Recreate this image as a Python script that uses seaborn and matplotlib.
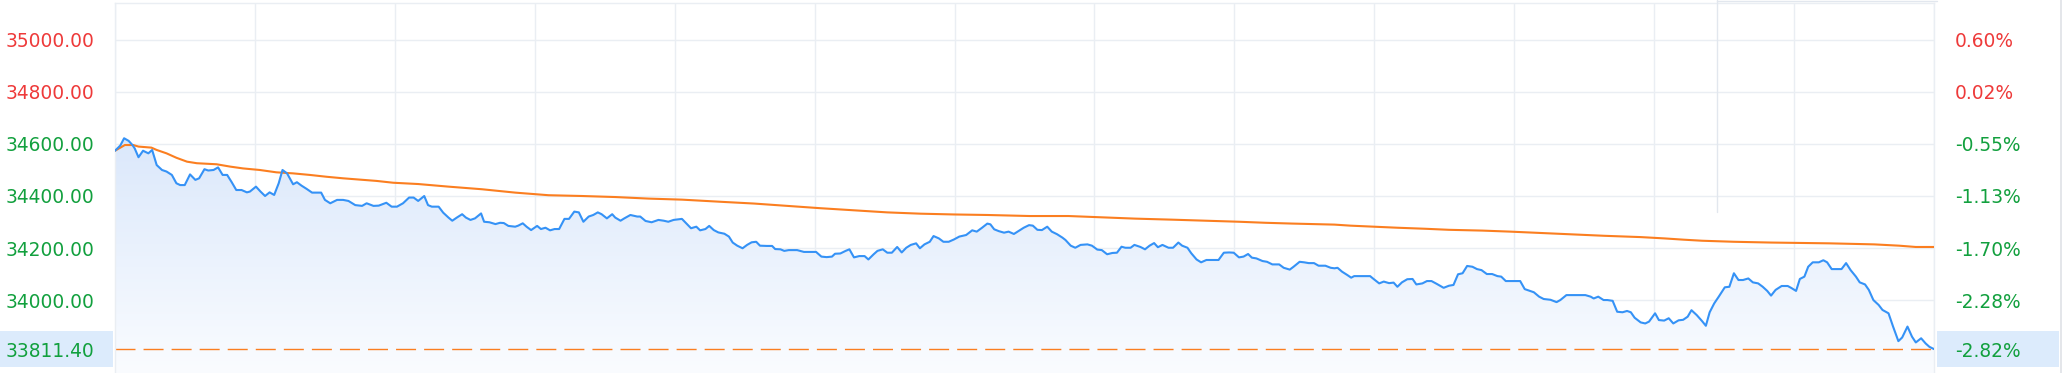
import numpy as np
import pandas as pd
import matplotlib
matplotlib.use("Agg")
import matplotlib.pyplot as plt
import seaborn as sns
from matplotlib.colors import LinearSegmentedColormap
from matplotlib.patches import Rectangle, PathPatch
from matplotlib.lines import Line2D
from matplotlib.transforms import blended_transform_factory

# ---------------- data ----------------
price_minutes = [
    0, 0.7, 1.2, 1.8, 2.3, 2.6, 3.1, 3.7, 4.4, 4.9,
    5.5, 6.2, 6.8, 7.5, 8.1, 8.6, 9.2, 9.9, 10.6, 11.1,
    11.8, 12.3, 13.0, 13.6, 14.2, 14.8, 15.4, 16.0, 16.7, 17.4,
    17.8, 18.6, 19.2, 19.8, 20.4, 21.0, 21.6, 22.1, 22.7, 23.5,
    24.0, 24.6, 25.3, 26.0, 27.2, 27.7, 28.4, 29.3, 30.1, 30.8,
    31.7, 32.6, 33.2, 34.1, 34.8, 35.8, 36.5, 37.2, 38.0, 38.8,
    39.4, 40.0,
    40.8, 41.3, 41.8, 42.7, 43.3, 44.0, 44.5, 45.1, 45.8, 46.3,
    46.9, 47.5, 48.3, 48.7, 49.4, 50.2, 50.8, 51.3, 51.9, 52.8,
    53.2, 53.8, 54.3, 54.9, 55.7, 56.2, 56.8, 57.4, 58.0, 58.6,
    59.3, 59.9, 60.6, 61.2, 61.8, 62.5, 63.1, 63.7, 64.2, 64.9,
    65.6, 66.0, 66.7, 67.2, 68.0, 68.9, 69.3, 70.0, 70.8, 71.7,
    72.4, 73.0, 73.7, 74.8, 75.5, 76.0, 76.7, 77.2, 77.9, 78.4,
    79.0, 79.6, 80.4,
    81.0, 81.5, 82.1, 82.8, 83.4, 84.0, 84.6, 85.1, 86.0, 86.7,
    87.1, 87.8, 88.3, 88.9, 90.0, 90.9, 91.7, 92.5, 93.2, 93.9,
    94.6, 95.0, 95.7, 96.4, 96.9, 97.5, 98.2, 98.9, 99.4, 100.1,
    100.6, 101.3, 101.9, 102.5, 103.2, 103.8, 104.4, 105.0, 105.7, 106.2,
    106.8, 107.5, 108.0, 108.7, 109.3, 110.0, 110.7, 111.4, 112.3, 113.1,
    113.7, 114.4, 115.1, 115.5, 116.0, 116.6, 117.3, 117.9, 118.6, 119.2,
    119.9, 120.6,
    121.1, 121.7, 122.3, 123.0, 123.6, 124.3, 125.0, 125.4, 126.1, 126.7,
    127.4, 128.3, 128.9, 129.6, 130.2, 130.9, 131.6, 132.2, 132.8, 133.3,
    134.0, 134.5, 135.3, 135.9, 136.5, 137.1, 137.6, 138.2, 139.0, 139.6,
    140.3, 140.8, 141.5, 142.0, 142.7, 143.3, 144.0, 144.8, 145.6, 146.3,
    147.0, 147.6, 148.3, 148.9, 149.5, 150.0, 150.6, 151.4, 152.0, 152.7,
    153.6, 154.2, 155.0, 155.5, 156.3, 156.9, 157.5, 158.2, 158.8, 159.7,
    160.4, 160.9,
    161.3, 161.9, 162.6, 163.1, 163.5, 164.3, 165.6, 166.1, 166.8, 167.4,
    168.1, 168.7, 169.2, 169.8, 170.5, 171.2, 171.7, 172.5, 173.1, 173.7,
    174.4, 175.3, 176.0, 176.6, 177.2, 177.8, 178.4, 179.1, 179.7, 180.3,
    181.0, 181.7, 182.4, 182.9, 183.5, 184.4, 185.4, 186.0, 186.6, 187.2,
    187.9, 188.5, 189.4, 190.2, 190.7, 191.5, 192.5, 194.0, 194.7, 195.1,
    195.7, 196.4, 196.9, 197.6, 198.2, 198.9, 199.5, 200.0, 200.5, 201.3,
    201.9, 202.4, 203.2, 203.7, 204.4, 205.0, 205.6, 206.3, 206.9, 207.5,
    208.0, 208.7, 209.4, 209.9, 210.4, 211.0, 211.6, 212.4, 213.0, 213.6,
    214.2, 214.8, 215.5, 216.1, 216.8, 217.4, 218.0, 218.5, 219.1, 219.9,
    220.7, 221.2, 221.8, 222.3, 222.9, 223.4, 224.0, 224.8, 225.4, 225.9,
    226.5, 227.1, 227.8, 228.4, 229.0, 229.7, 230.2, 230.9, 231.4, 232.0,
    232.7, 233.2, 234.0, 234.6, 235.3, 235.8, 236.5, 237.1, 237.6, 238.3,
    238.9, 239.4, 240.0,
]
price_values = [
    34574, 34594, 34622, 34612, 34596, 34583, 34549, 34574, 34564, 34577,
    34519, 34500, 34494, 34481, 34449, 34442, 34442, 34483, 34462, 34468,
    34503, 34498, 34500, 34510, 34481, 34481, 34453, 34423, 34423, 34414,
    34417, 34436, 34417, 34400, 34414, 34404, 34449, 34500, 34487, 34445,
    34453, 34440, 34427, 34413, 34413, 34385, 34372, 34385, 34385, 34381,
    34365, 34362, 34372, 34362, 34363, 34374, 34359, 34359, 34372, 34394,
    34394, 34381,
    34400, 34365, 34359, 34359, 34336, 34317, 34305, 34317, 34330, 34317,
    34308, 34314, 34333, 34301, 34299, 34292, 34297, 34296, 34285, 34282,
    34286, 34295, 34282, 34269, 34285, 34273, 34278, 34268, 34273, 34273,
    34312, 34312, 34340, 34337, 34301, 34321, 34327, 34337, 34330, 34314,
    34330, 34317, 34305, 34314, 34327, 34321, 34321, 34304, 34299, 34308,
    34305, 34301, 34308, 34312, 34291, 34276, 34282, 34268, 34273, 34285,
    34269, 34260, 34255,
    34244, 34221, 34209, 34199, 34212, 34222, 34224, 34209, 34208, 34208,
    34196, 34195, 34189, 34192, 34192, 34185, 34185, 34185, 34167, 34165,
    34167, 34178, 34179, 34189, 34195, 34164, 34169, 34169, 34156, 34176,
    34189, 34195, 34182, 34182, 34204, 34183, 34201, 34212, 34218, 34199,
    34214, 34224, 34246, 34237, 34224, 34224, 34233, 34244, 34250, 34268,
    34263, 34278, 34294, 34291, 34272, 34265, 34259, 34263, 34254, 34265,
    34278, 34288,
    34286, 34270, 34269, 34282, 34263, 34253, 34240, 34231, 34209, 34201,
    34212, 34214, 34209, 34194, 34192, 34176, 34181, 34182, 34205, 34201,
    34201, 34212, 34204, 34195, 34209, 34219, 34203, 34212, 34201, 34201,
    34221, 34209, 34201, 34180, 34156, 34145, 34154, 34154, 34154, 34182,
    34183, 34182, 34164, 34167, 34177, 34163, 34160, 34150, 34147, 34137,
    34137, 34124, 34117, 34128, 34147, 34145, 34142, 34142, 34132, 34132,
    34124, 34122,
    34124, 34109, 34096, 34086, 34092, 34092, 34092, 34080, 34064, 34071,
    34065, 34067, 34051, 34068, 34080, 34081, 34060, 34064, 34073, 34073,
    34062, 34047, 34055, 34058, 34099, 34103, 34131, 34128, 34119, 34115,
    34100, 34100, 34092, 34090, 34073, 34073, 34073, 34042, 34036, 34030,
    34013, 34004, 34001, 33992, 34000, 34019, 34019, 34019, 34013, 34006,
    34013, 34000, 34000, 33997, 33955, 33953, 33958, 33953, 33932, 33914,
    33910, 33917, 33949, 33923, 33921, 33930, 33910, 33922, 33924, 33936,
    33961, 33942, 33919, 33901, 33953, 33987, 34013, 34049, 34051, 34103,
    34077, 34077, 34083, 34068, 34064, 34051, 34035, 34017, 34039, 34054,
    34054, 34046, 34035, 34081, 34090, 34128, 34145, 34145, 34153, 34145,
    34119, 34119, 34119, 34142, 34115, 34090, 34068, 34060, 34039, 34000,
    33981, 33962, 33949, 33898, 33842, 33856, 33898, 33859, 33837, 33853,
    33833, 33820, 33811.4,
]

avg_minutes = [
    0, 1.3, 2.4, 3.1, 4.8, 5.5, 6.8, 8.1, 9.5, 10.8,
    13.4, 15.2, 16.9, 19.1, 21.3, 23.5, 25.7, 27.9, 30.1, 32.3,
    34.5, 36.7, 40.0, 44.0, 48.4, 52.8, 57.2, 61.6, 66.0, 70.4,
    74.8, 80.4, 84.3, 88.7, 93.1, 97.5, 101.9, 106.3, 110.7, 115.1,
    120.7, 125.8, 130.2, 134.6, 139.5, 143.9, 148.3, 151.8, 155.3, 160.9,
    163.0, 166.1, 169.2, 172.9, 176.0, 180.4, 184.1, 187.2, 190.3, 193.4,
    196.5, 201.3, 204.4, 207.0, 209.4, 213.6, 218.5, 226.2, 232.1, 235.4,
    237.6, 240.0,
]
avg_values = [
    34574, 34596, 34596, 34590, 34586, 34577, 34564, 34547, 34532, 34526,
    34522, 34513, 34506, 34500, 34491, 34487, 34481, 34474, 34468, 34463,
    34458, 34451, 34446, 34436, 34426, 34413, 34403, 34400, 34396, 34390,
    34386, 34377, 34371, 34362, 34353, 34345, 34337, 34332, 34329, 34327,
    34323, 34323, 34318, 34313, 34309, 34305, 34301, 34297, 34294, 34290,
    34286, 34282, 34278, 34274, 34270, 34267, 34263, 34259, 34255, 34251,
    34247, 34242, 34237, 34232, 34228, 34224, 34221, 34218, 34214, 34209,
    34204, 34204,
]

price_ticks = [33800, 34000, 34200, 34400, 34600, 34800, 35000]
price_tick_labels = ["", "34000.00", "34200.00", "34400.00", "34600.00", "34800.00", "35000.00"]
pct_tick_labels = ["", "-2.28%", "-1.70%", "-1.13%", "-0.55%", "0.02%", "0.60%"]
last_price = 33811.40
last_price_label = "33811.40"
last_pct_label = "-2.82%"
session_minutes = 240
n_time_grid = 14

assert len(price_minutes) == len(price_values)
assert len(avg_minutes) == len(avg_values)

# ---------------- style ----------------
sns.set_style("white")
plt.rcParams['font.family'] = ['DejaVu Sans']

RED = "#ee3a3a"
GREEN = "#12a03e"
BLUE = "#3592f6"
ORANGE = "#fb7e20"
GRID = "#eaeef3"
BOX = "#dcebfc"

W, H = 2065, 373
fig = plt.figure(figsize=(W / 100, H / 100), dpi=100)
fig.patch.set_facecolor("white")
ax = fig.add_axes([115 / W, 0, (1934 - 115) / W, 370 / H])
ylo, yhi = 33719.5, 35142
ax.set_xlim(0, session_minutes)
ax.set_ylim(ylo, yhi)

df_price = pd.DataFrame({"minute": price_minutes, "price": price_values})
df_avg = pd.DataFrame({"minute": avg_minutes, "avg": avg_values})

# gradient area under price line
poly = ax.fill_between(df_price["minute"], df_price["price"], ylo, color="none", lw=0)
path = poly.get_paths()[0]
clip = PathPatch(path, transform=ax.transData, facecolor="none", edgecolor="none")
ax.add_patch(clip)
cmap = LinearSegmentedColormap.from_list("g", ["#fafcff", "#dbe8fb"])
grad = np.linspace(0, 1, 256).reshape(-1, 1)
img = ax.imshow(grad, extent=[0, session_minutes, ylo, max(price_values)], origin="lower",
                aspect="auto", cmap=cmap, zorder=1, interpolation="bicubic")
img.set_clip_path(clip)

sns.lineplot(data=df_avg, x="minute", y="avg", ax=ax, color=ORANGE, linewidth=1.5,
             estimator=None, zorder=3)
sns.lineplot(data=df_price, x="minute", y="price", ax=ax, color=BLUE, linewidth=1.5,
             estimator=None, zorder=4)
ax.axhline(last_price, color=ORANGE, linewidth=1.0, dashes=(14.4, 5.8), zorder=2)

ax.set_xlabel("")
ax.set_ylabel("")
ax.set_xticks(np.linspace(0, session_minutes, n_time_grid))
ax.set_xticklabels([])
ax.tick_params(axis="x", length=0)
ax.set_yticks(price_ticks)
ax.set_yticklabels(price_tick_labels)
ax.tick_params(axis="y", length=0, pad=15.1, labelsize=13.4)
ax.grid(True, color=GRID, linewidth=1.0, zorder=0)
ax.set_axisbelow(True)
for s in ax.spines.values():
    s.set_color(GRID)
    s.set_linewidth(1.0)
ax.spines["bottom"].set_visible(False)

base = 34792.0
for lab, v in zip(ax.get_yticklabels(), price_ticks):
    lab.set_color(RED if v > base else GREEN)

ax2 = ax.twinx()
ax2.set_ylim(ylo, yhi)
ax2.set_yticks(price_ticks)
ax2.set_yticklabels(pct_tick_labels)
ax2.tick_params(axis="y", length=0, pad=15.1, labelsize=13.4)
for s in ax2.spines.values():
    s.set_visible(False)
for lab, v in zip(ax2.get_yticklabels(), price_ticks):
    lab.set_color(RED if v > base else GREEN)

# last price boxes + labels
bt = blended_transform_factory(fig.transFigure, ax.transData)
half = 18 * (yhi - ylo) / 370
fig.patches.append(Rectangle((0, last_price - half), 113 / W, 2 * half, transform=bt,
                             facecolor=BOX, edgecolor="none", zorder=0))
fig.patches.append(Rectangle((1937 / W, last_price - half), (2059 - 1937) / W, 2 * half,
                             transform=bt, facecolor=BOX, edgecolor="none", zorder=0))
fig.text(94 / W, last_price, last_price_label, transform=bt, ha="right", va="center_baseline",
         fontsize=13.4, color=GREEN)
fig.text(1955 / W, last_price, last_pct_label, transform=bt, ha="left", va="center_baseline",
         fontsize=13.4, color=GREEN)

# light frame artefacts at the right
fig.add_artist(Line2D([1717 / W, 1717 / W], [1 - 212 / H, 1], color="#e2e7ee", lw=1.0))
fig.add_artist(Line2D([1717 / W, 1937 / W], [1 - 0.8 / H, 1 - 0.8 / H], color="#e2e7ee", lw=1.0))
fig.add_artist(Line2D([2060.5 / W, 2060.5 / W], [0, 1], color="#dfe2e6", lw=1.2))

fig.savefig("out.png", dpi=100, facecolor="white")
